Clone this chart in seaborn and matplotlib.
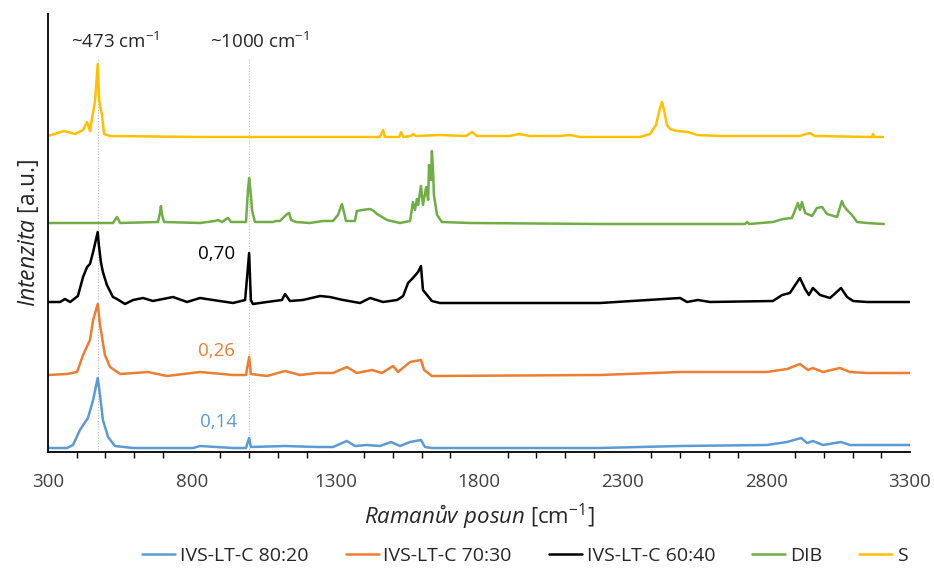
import numpy as np
import pandas as pd
import matplotlib
matplotlib.use("Agg")
import matplotlib.pyplot as plt
from matplotlib.ticker import MultipleLocator
import seaborn as sns

# Raman spectra (shift in cm-1, stacked intensity in a.u.)
shift_8020 = [300, 366, 387, 411, 439, 457, 473, 481, 491, 509, 533, 596, 805, 829, 944, 989,
              1000, 1006, 1125, 1236, 1292, 1340, 1368, 1410, 1455, 1494, 1525, 1560, 1598,
              1612, 1636, 2221, 2500, 2802, 2872, 2921, 2942, 2962, 2997, 3060, 3091, 3300]
int_8020 = [4, 4, 7, 22, 34, 52, 74, 57, 32, 15, 6, 4, 4, 6, 4, 4,
            14, 5, 6, 5, 5, 11, 6, 7, 6, 10, 6, 10, 12,
            5, 4, 4, 6, 7, 10, 14, 9, 11, 7, 10, 7, 7]

shift_7030 = [300, 366, 401, 422, 446, 457, 473, 481, 498, 516, 551, 648, 714, 829, 944, 989,
              1000, 1006, 1062, 1125, 1177, 1236, 1292, 1340, 1375, 1428, 1462, 1501, 1518,
              1560, 1598, 1609, 1636, 2221, 2500, 2802, 2872, 2917, 2945, 2962, 2997, 3056,
              3091, 3150, 3300]
int_7030 = [77, 78, 80, 97, 112, 132, 148, 127, 97, 85, 78, 80, 76, 80, 77, 77,
            95, 78, 76, 81, 77, 79, 79, 85, 79, 82, 79, 86, 80,
            90, 92, 82, 76, 77, 80, 80, 83, 88, 82, 84, 80, 84,
            80, 79, 79]

shift_6040 = [300, 342, 359, 377, 404, 422, 436, 446, 457, 473, 477, 484, 491, 505, 526, 540,
              568, 596, 631, 665, 700, 735, 784, 829, 874, 944, 986, 1000, 1006, 1013, 1062,
              1114, 1125, 1142, 1187, 1247, 1281, 1327, 1386, 1421, 1466, 1515, 1536, 1553,
              1570, 1588, 1598, 1605, 1619, 1636, 1664, 2221, 2500, 2524, 2562, 2604, 2823,
              2855, 2882, 2917, 2935, 2948, 2962, 2987, 3022, 3060, 3081, 3102, 3150, 3300]
int_6040 = [150, 150, 153, 150, 156, 175, 185, 188, 200, 220, 207, 190, 180, 167, 155, 153,
            148, 152, 154, 151, 153, 155, 150, 154, 152, 149, 152, 199, 152, 148, 150,
            152, 158, 151, 152, 156, 155, 152, 149, 154, 150, 152, 156, 169,
            174, 180, 186, 162, 157, 151, 149, 149, 154, 150, 152, 150, 151,
            157, 159, 174, 163, 157, 164, 157, 154, 164, 155, 151, 150, 150]

shift_dib = [300, 481, 526, 540, 551, 683, 690, 693, 697, 704, 829, 881, 892, 906, 920, 926,
             937, 989, 996, 1000, 1006, 1010, 1020, 1083, 1093, 1107, 1132, 1139, 1146, 1163,
             1212, 1257, 1292, 1309, 1323, 1330, 1337, 1368, 1375, 1393, 1421, 1434, 1445,
             1480, 1525, 1560, 1570, 1577, 1584, 1588, 1598, 1605, 1616, 1623, 1626, 1633,
             1636, 1640, 1643, 1654, 1671, 1769, 2221, 2726, 2733, 2740, 2823, 2858, 2889,
             2910, 2917, 2924, 2935, 2959, 2976, 2994, 3011, 3046, 3063, 3070, 3081, 3098,
             3116, 3150, 3209]
int_dib = [229, 229, 229, 235, 229, 230, 240, 246, 237, 230, 229, 231, 232, 230, 233, 234,
           230, 230, 262, 274, 257, 242, 230, 230, 231, 231, 238, 239, 232, 230,
           229, 231, 231, 237, 248, 240, 231, 231, 241, 242, 243, 241, 238,
           232, 229, 231, 250, 242, 253, 247, 266, 247, 265, 252, 287, 272,
           301, 282, 257, 237, 230, 229, 228, 228, 230, 228, 230, 233, 234,
           249, 242, 250, 239, 236, 244, 245, 238, 235, 251, 246, 242, 237,
           230, 229, 228]

shift_s = [300, 356, 394, 422, 436, 446, 464, 473, 478, 483, 488, 495, 516, 829, 1177, 1455,
           1466, 1473, 1522, 1529, 1536, 1563, 1570, 1581, 1664, 1755, 1776, 1793, 1908,
           1939, 1977, 2082, 2117, 2152, 2360, 2395, 2416, 2430, 2437, 2444, 2454, 2465,
           2489, 2527, 2559, 2639, 2917, 2938, 2952, 2969, 3168, 3171, 3175, 3206]
int_s = [316, 321, 318, 322, 330, 321, 352, 388, 352, 344, 337, 318, 316, 315, 315, 315,
         322, 315, 315, 320, 315, 316, 318, 316, 317, 316, 320, 316, 316,
         318, 316, 316, 317, 315, 315, 318, 327, 344, 350, 342, 327, 323,
         321, 320, 317, 316, 316, 318, 319, 316, 315, 318, 315, 315]

series_names = ["IVS-LT-C 80:20", "IVS-LT-C 70:30", "IVS-LT-C 60:40", "DIB", "S"]
series_colors = ["#5B9BD5", "#ED7D31", "#000000", "#70AD47", "#FFC000"]

# intensity ratio I(1000) / I(473) for the three IVS-LT-C samples
ratio_values = [0.14, 0.26, 0.70]
ratio_label_x = [958, 950, 952]
ratio_label_y = [30, 101, 198]

marked_shifts = [473, 1000]
marked_label_x = [533, 1038]

x_ticks = [300, 800, 1300, 1800, 2300, 2800, 3300]

frames = []
for name, xs, ys in zip(series_names,
                        [shift_8020, shift_7030, shift_6040, shift_dib, shift_s],
                        [int_8020, int_7030, int_6040, int_dib, int_s]):
    frames.append(pd.DataFrame({"shift": xs, "intensity": ys, "sample": name}))
df = pd.concat(frames, ignore_index=True)

sns.set_theme(style="white")
plt.rcParams["font.family"] = ["Open Sans", "DejaVu Sans"]
plt.rcParams["mathtext.fontset"] = "custom"
plt.rcParams["mathtext.rm"] = "Open Sans"
plt.rcParams["mathtext.it"] = "Open Sans:italic"
plt.rcParams["mathtext.bf"] = "Open Sans:bold"

text_dark = "#262626"

fig = plt.figure(figsize=(9.34, 5.71), dpi=100)
ax = fig.add_axes([0.0514, 0.2084, 0.9229, 0.7671])

for xv in marked_shifts:
    ax.axvline(xv, ymin=0, ymax=394 / 438, color="#BFBFBF", lw=0.8, ls=(0, (1, 1.5)), zorder=0)

sns.lineplot(data=df, x="shift", y="intensity", hue="sample", hue_order=series_names,
             palette=series_colors, estimator=None, lw=1.8, ax=ax, legend=True)

ax.set_xlim(300, 3300)
ax.set_ylim(0, 438)
ax.set_xticks(x_ticks)
ax.set_xticklabels([str(t) for t in x_ticks])
ax.xaxis.set_minor_locator(MultipleLocator(100))
ax.set_yticks([])
ax.tick_params(axis="x", which="major", direction="inout", length=10, width=1.0,
               color="black", labelsize=13.5, pad=10)
ax.tick_params(axis="x", which="minor", direction="out", length=4, width=1.0, color="black",
               bottom=True)
for lab in ax.get_xticklabels():
    lab.set_color("#404040")
for side in ["top", "right"]:
    ax.spines[side].set_visible(False)
for side in ["left", "bottom"]:
    ax.spines[side].set_color("black")
    ax.spines[side].set_linewidth(1.3)

ax.set_xlabel(r"$\mathit{Ramanův\ posun}$ [cm$^{-1}$]", fontsize=16, color=text_dark, labelpad=8)
ax.set_ylabel(r"$\mathit{Intenzita}$ [a.u.]", fontsize=16.5, color=text_dark, labelpad=5)

for xv, lx in zip(marked_shifts, marked_label_x):
    ax.text(lx, 410, f"~{xv} cm$^{{-1}}$", ha="center", va="center", fontsize=13.5,
            color=text_dark)

for val, lx, ly, col in zip(ratio_values, ratio_label_x, ratio_label_y, series_colors[:3]):
    ax.text(lx, ly, f"{val:.2f}".replace(".", ","), ha="right", va="center",
            fontsize=13.5, color=col)

handles, labels = ax.get_legend_handles_labels()
ax.legend(handles, labels, loc="center", bbox_to_anchor=(0.562, 0.026),
          bbox_transform=fig.transFigure, ncol=5, frameon=False, fontsize=14,
          handlelength=1.7, handletextpad=0.25, columnspacing=1.9, labelcolor=text_dark)

fig.savefig("out.png", dpi=100)
